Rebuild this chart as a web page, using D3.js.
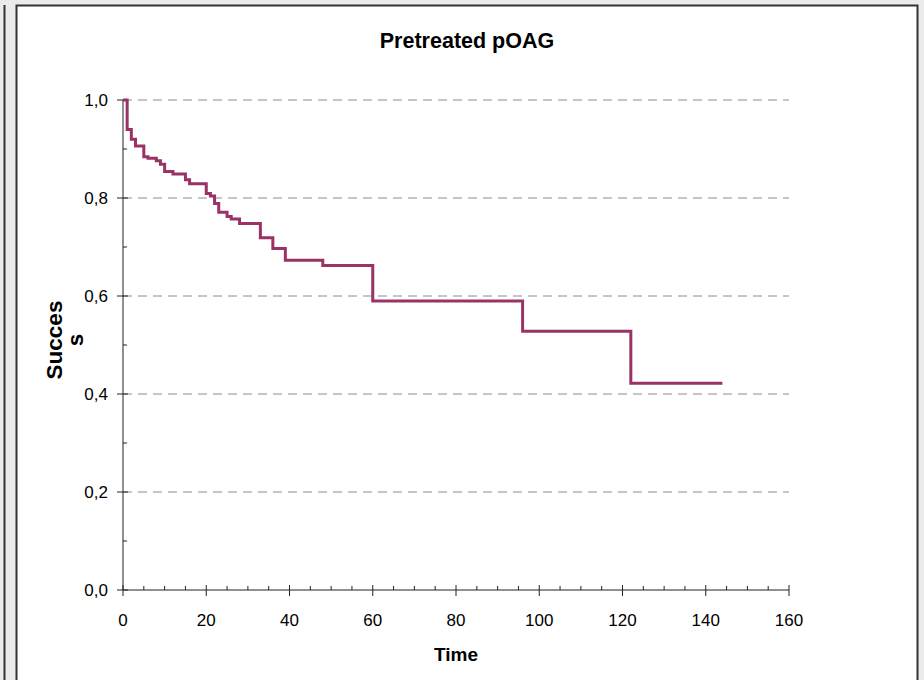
<!DOCTYPE html>
<html><head><meta charset="utf-8">
<script src="https://cdn.jsdelivr.net/npm/d3@7"></script>
<style>html,body{margin:0;padding:0;background:#ebebeb;}svg{display:block;}</style>
</head><body>
<svg id="c" width="924" height="680"></svg>
<script>
const times = [0, 1, 2, 3, 5, 6, 8, 9, 10, 12, 15, 16, 20, 21, 22, 23, 25, 26, 28, 33, 36, 39, 48, 60, 96, 122, 144];
const survival = [1.0, 0.940, 0.920, 0.906, 0.884, 0.881, 0.876, 0.869, 0.854, 0.849, 0.837, 0.829, 0.809, 0.804, 0.789, 0.771, 0.762, 0.757, 0.748, 0.719, 0.697, 0.673, 0.662, 0.590, 0.528, 0.422, 0.422];
const xTicks = [0, 20, 40, 60, 80, 100, 120, 140, 160];
const yTicks = [0, 0.2, 0.4, 0.6, 0.8, 1.0];
const yTickLabels = ["0,0", "0,2", "0,4", "0,6", "0,8", "1,0"];
const title = "Pretreated pOAG";
const xTitle = "Time";
const yTitleLines = ["Succes", "s"];

const svg = d3.select("#c");
const W = 924, H = 680;
svg.append("rect").attr("x",0).attr("y",0).attr("width",W).attr("height",H).attr("fill","#ebebeb");
svg.append("line").attr("x1",4.5).attr("x2",4.5).attr("y1",5).attr("y2",H).attr("stroke","#333").attr("stroke-width",2);
svg.append("rect").attr("x",16.5).attr("y",5.5).attr("width",901).attr("height",700)
  .attr("fill","#fff").attr("stroke","#333").attr("stroke-width",2);

const x = d3.scaleLinear().domain([0,160]).range([123,789]);
const y = d3.scaleLinear().domain([0,1]).range([590,100]);
const font = "'Liberation Sans', Arial, sans-serif";

svg.append("g").selectAll("line").data(yTicks.filter(d=>d>0)).join("line")
  .attr("x1",x(0)).attr("x2",x(160)).attr("y1",d=>y(d)).attr("y2",d=>y(d))
  .attr("stroke","#8c8c8c").attr("stroke-width",1).attr("stroke-dasharray","9,6");

const gx = svg.append("g").attr("transform",`translate(0,${y(0)})`);
gx.append("line").attr("x1",x(0)).attr("x2",x(160)).attr("stroke","#222");
gx.selectAll("line.minor").data(d3.range(0,161,5).filter(d=>d%20!==0)).join("line").attr("class","minor")
  .attr("x1",d=>x(d)).attr("x2",d=>x(d)).attr("y1",0).attr("y2",-4).attr("stroke","#222");
gx.selectAll("line.major").data(xTicks).join("line").attr("class","major")
  .attr("x1",d=>x(d)).attr("x2",d=>x(d)).attr("y1",-5).attr("y2",6).attr("stroke","#222");
gx.selectAll("text").data(xTicks).join("text")
  .attr("x",d=>x(d)).attr("y",36).attr("text-anchor","middle")
  .attr("font-family",font).attr("font-size",17).attr("fill","#000").text(d=>d);

const gy = svg.append("g").attr("transform",`translate(${x(0)},0)`);
gy.append("line").attr("y1",y(0)).attr("y2",y(1)).attr("stroke","#222");
gy.selectAll("line.minor").data([0.1,0.3,0.5,0.7,0.9]).join("line").attr("class","minor")
  .attr("y1",d=>y(d)).attr("y2",d=>y(d)).attr("x1",0).attr("x2",4).attr("stroke","#222");
gy.selectAll("line.major").data(yTicks).join("line").attr("class","major")
  .attr("y1",d=>y(d)).attr("y2",d=>y(d)).attr("x1",-6).attr("x2",5).attr("stroke","#222");
gy.selectAll("text").data(yTicks).join("text")
  .attr("x",-15).attr("y",d=>y(d)).attr("dy","0.35em").attr("text-anchor","end")
  .attr("font-family",font).attr("font-size",17).attr("fill","#000").text((d,i)=>yTickLabels[i]);

const pts = times.map((t,i)=>[t, survival[i]]);
svg.append("path").datum(pts)
  .attr("d", d3.line().x(d=>x(d[0])).y(d=>y(d[1])).curve(d3.curveStepAfter))
  .attr("fill","none").attr("stroke","#993366").attr("stroke-width",3).attr("stroke-linejoin","miter");

svg.append("text").attr("x",467).attr("y",48).attr("text-anchor","middle")
  .attr("font-family",font).attr("font-weight","bold").attr("font-size",21.5).text(title);
svg.append("text").attr("x",x(80)).attr("y",661).attr("text-anchor","middle")
  .attr("font-family",font).attr("font-weight","bold").attr("font-size",19).text(xTitle);
const yt = svg.append("text").attr("transform","translate(62,340) rotate(-90)")
  .attr("text-anchor","middle").attr("font-family",font).attr("font-weight","bold").attr("font-size",22.5);
yTitleLines.forEach((l,i)=>{
  yt.append("tspan").attr("x",0).attr("y",i*21).text(l);
});
</script>
</body></html>
